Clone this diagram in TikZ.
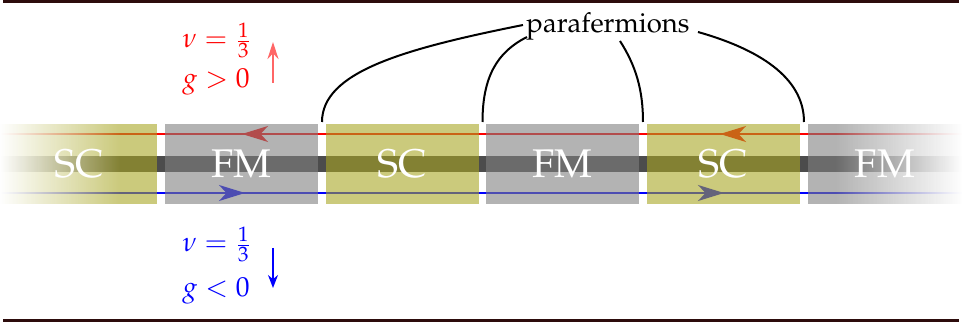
\documentclass[tikz,border=0pt]{standalone}
\usepackage[T1]{fontenc}
\usepackage{mathpazo}
\usetikzlibrary{arrows.meta,fadings}
\definecolor{scol}{RGB}{168,166,36}
\definecolor{fmcol}{RGB}{128,128,128}
\definecolor{rulecol}{RGB}{45,12,12}
\tikzfading[name=fadeleft, left color=transparent!0, right color=transparent!100]
\tikzfading[name=faderight, left color=transparent!100, right color=transparent!0]
\begin{document}
\begin{tikzpicture}[x=0.4pt,y=-0.4pt,
  scbox/.style={fill=scol, fill opacity=0.6},
  fmbox/.style={fill=fmcol, fill opacity=0.6},
  edgeline/.style={line width=0.5pt},
  flowtip/.style={-{Stealth[length=10.4pt,width=6.4pt,inset=3pt]}, line width=0.5pt},
  phase/.style={text=white, font=\fontfamily{ppl}\fontsize{16}{20}\selectfont, anchor=base, inner sep=0pt},
  pfline/.style={line width=0.8pt},
  lbl/.style={anchor=base west, inner sep=0pt, font=\fontsize{11}{13}\selectfont},
]
\useasboundingbox (0,0) rectangle (962,326);

% horizontal rules
\draw[rulecol, line width=1.2pt] (3,2) -- (959,2);
\draw[rulecol, line width=1.2pt] (3,320.5) -- (959,320.5);

% edge channels with their propagation directions
\draw[red, edgeline] (0,134) -- (962,134);
\draw[blue, edgeline] (0,193) -- (962,193);
\draw[red, flowtip] (270,134) -- (242,134);
\draw[red, flowtip] (748,134) -- (720,134);
\draw[blue, flowtip] (217,193) -- (245,193);
\draw[blue, flowtip] (696,193) -- (724,193);

% central strip
\fill[black, fill opacity=0.7] (0,156) rectangle (962,172);

% alternating SC / FM segments
\fill[scbox] (0,124) rectangle (157,204);
\fill[fmbox] (165,124) rectangle (318,204);
\fill[scbox] (326,124) rectangle (479,204);
\fill[fmbox] (486,124) rectangle (639,204);
\fill[scbox] (647,124) rectangle (800,204);
\fill[fmbox] (808,124) rectangle (962,204);

% fade out at both ends
\fill[white, path fading=fadeleft] (0,120) rectangle (120,208);
\fill[white, path fading=faderight] (835,120) rectangle (962,208);

\node[phase] (sc1) at (79,178) {SC};
\node[phase] (fm1) at (241.5,178) {FM};
\node[phase] (sc2) at (402.5,178) {SC};
\node[phase] (fm2) at (562.5,178) {FM};
\node[phase] (sc3) at (723.5,178) {SC};
\node[phase] (fm3) at (885,178) {FM};

% parafermion label and pointers to the domain walls
\node[font=\fontfamily{ppl}\fontsize{11}{13}\selectfont, anchor=base, inner sep=0pt] (pf) at (608,33) {parafermions};
\coordinate (p1) at (523,25);
\coordinate (p2) at (527,37);
\coordinate (p3) at (620,41);
\coordinate (p4) at (698,32);
\coordinate (w1) at (322,122);
\coordinate (w2) at (482.5,122);
\coordinate (w3) at (643,122);
\coordinate (w4) at (804,122);
\draw[pfline] (p1) .. controls (403,49) and (322,72) .. (w1);
\draw[pfline] (p2) .. controls (497,52) and (482.5,77) .. (w2);
\draw[pfline] (p3) .. controls (636,66) and (643,90) .. (w3);
\draw[pfline] (p4) .. controls (758,49) and (804,77) .. (w4);

% filling and coupling labels
\node[lbl, red] (nuup) at (182,48) {$\nu=\frac{1}{3}$};
\node[lbl, red] (gup) at (182,88) {$g>0$};
\coordinate (aup0) at (273,83);
\coordinate (aup1) at (273,42);
\draw[red!60, line width=0.5pt, -{Stealth[length=6.8pt,width=4.4pt]}] (aup0) -- (aup1);

\node[lbl, blue] (nudn) at (182,252) {$\nu=\frac{1}{3}$};
\node[lbl, blue] (gdn) at (182,297) {$g<0$};
\coordinate (adn0) at (273,248);
\coordinate (adn1) at (273,288);
\draw[blue, line width=0.55pt, -{Stealth[length=5.2pt,width=4pt]}] (adn0) -- (adn1);
\end{tikzpicture}
\end{document}
